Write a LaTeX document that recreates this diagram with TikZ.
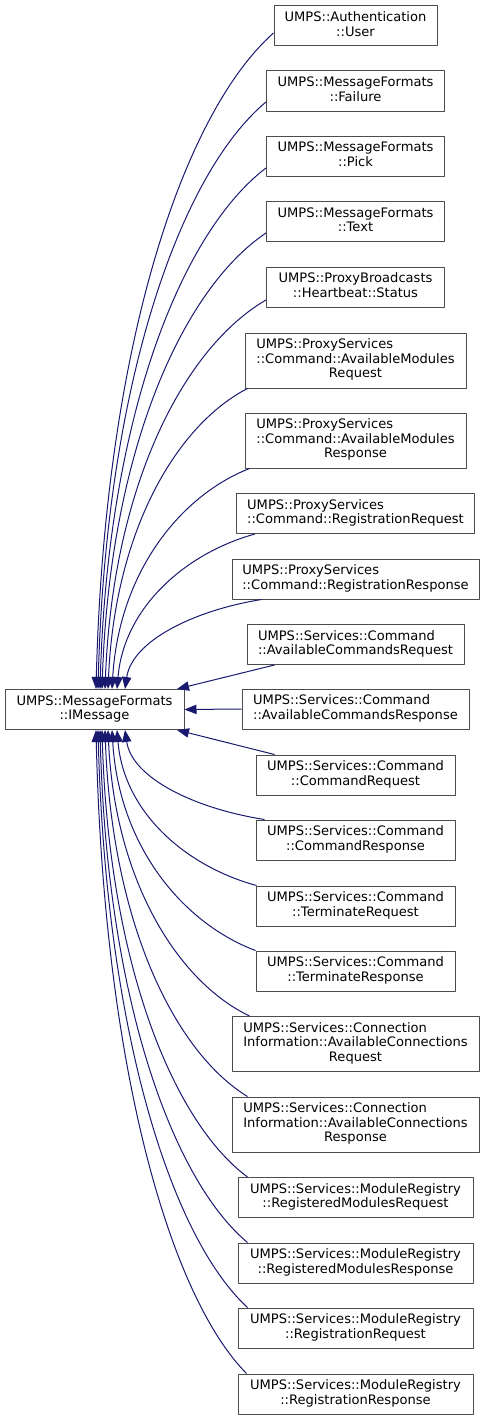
\documentclass[tikz,border=0pt]{standalone}
\usepackage{fontspec}
\setmainfont{DejaVu Sans}
\usetikzlibrary{arrows.meta,calc}
\definecolor{edgeblue}{RGB}{25,25,112}
\newcommand{\clsname}[2]{\begin{tabular}{@{}l@{}}#1\\\multicolumn{1}{@{}c@{}}{#2}\end{tabular}}
\tikzset{
  cls/.style={draw=black!70, fill=white, line width=0.75pt, inner sep=0pt,
    font=\fontsize{9.8}{10.8}\selectfont},
  edge/.style={draw=edgeblue, line width=0.75pt,
    -{Triangle[length=9pt,width=7pt,fill=edgeblue]}}
}
\begin{document}
\begin{tikzpicture}[x=0.75pt, y=0.75pt, line join=round]
  \useasboundingbox (0,0) rectangle (484,-1420);
  % base class
  \node[cls, minimum width=179*0.75pt, minimum height=40*0.75pt] (base) at (94.5,-709.5)
    {\clsname{UMPS::MessageFormats}{::IMessage}};
  % derived classes
  \foreach \n/\y/\w/\h/\f/\l in {
    auth/26/163/40/{UMPS::Authentication}/{::User},
    fail/91/178/40/{UMPS::MessageFormats}/{::Failure},
    pick/156/178/40/{UMPS::MessageFormats}/{::Pick},
    text/221.5/178/40/{UMPS::MessageFormats}/{::Text},
    hbst/287/178/40/{UMPS::ProxyBroadcasts}/{::Heartbeat::Status},
    amreq/360.5/221/55/{UMPS::ProxyServices\\::Command::AvailableModules}/{Request},
    amres/440.5/221/55/{UMPS::ProxyServices\\::Command::AvailableModules}/{Response},
    psrreq/513.5/238/40/{UMPS::ProxyServices}/{::Command::RegistrationRequest},
    psrres/579/247/40/{UMPS::ProxyServices}/{::Command::RegistrationResponse},
    acreq/644.5/217/40/{UMPS::Services::Command}/{::AvailableCommandsRequest},
    acres/709/227/40/{UMPS::Services::Command}/{::AvailableCommandsResponse},
    cmreq/775/199/40/{UMPS::Services::Command}/{::CommandRequest},
    cmres/840/199/40/{UMPS::Services::Command}/{::CommandResponse},
    tmreq/906/199/40/{UMPS::Services::Command}/{::TerminateRequest},
    tmres/971/199/40/{UMPS::Services::Command}/{::TerminateResponse},
    acnreq/1044/247/55/{UMPS::Services::Connection\\Information::AvailableConnections}/{Request},
    acnres/1124.5/247/55/{UMPS::Services::Connection\\Information::AvailableConnections}/{Response},
    rmreq/1197.5/235/40/{UMPS::Services::ModuleRegistry}/{::RegisteredModulesRequest},
    rmres/1263/235/40/{UMPS::Services::ModuleRegistry}/{::RegisteredModulesResponse},
    mrreq/1328/235/40/{UMPS::Services::ModuleRegistry}/{::RegistrationRequest},
    mrres/1394/235/40/{UMPS::Services::ModuleRegistry}/{::RegistrationResponse}}{
    \node[cls, minimum width=\w*0.75pt, minimum height=\h*0.75pt] (\n) at (355.5,-\y)
      {\clsname{\f}{\l}};
  }
  % inheritance arrows, upper half
  \draw[edge] ($(auth.west)+(0,-7)$) .. controls +(-89,-79) and +(9,348) .. ($(base.north)+(1.5,0)$);
  \draw[edge] ($(fail.west)+(0,-11)$) .. controls +(-84,-70) and +(8,311) .. ($(base.north)+(3.5,0)$);
  \draw[edge] ($(pick.west)+(0,-12)$) .. controls +(-83,-63) and +(8,276) .. ($(base.north)+(5.5,0)$);
  \draw[edge] ($(text.west)+(0,-11.5)$) .. controls +(-82,-55) and +(8,242) .. ($(base.north)+(7.5,0)$);
  \draw[edge] ($(hbst.west)+(0,-13)$) .. controls +(-81,-47) and +(8,206) .. ($(base.north)+(10.5,0)$);
  \draw[edge] ($(amreq.south west)+(3,0)$) .. controls +(-70,-36) and +(7,160) .. ($(base.north)+(13.5,0)$);
  \draw[edge] ($(amres.south west)+(5,0)$) .. controls +(-69,-27) and +(7,117) .. ($(base.north)+(17.5,0)$);
  \draw[edge] ($(psrreq.south west)+(19,0)$) .. controls +(-69,-19) and +(7,82) .. ($(base.north)+(22.5,0)$);
  \draw[edge] ($(psrres.south west)+(30,0)$) .. controls +(-68,-11) and +(7,48) .. ($(base.north)+(30.5,0)$);
  \draw[edge] ($(acreq.south west)+(28,0)$) -- ($(base.north)+(82.5,0)$);
  \draw[edge] (acres.west) -- (base.east);
  % inheritance arrows, lower half
  \draw[edge] ($(cmreq.north west)+(19,0)$) -- ($(base.south)+(82.5,0)$);
  \draw[edge] ($(cmres.north west)+(9,0)$) .. controls +(-70,11) and +(7,-48) .. ($(base.south)+(30.5,0)$);
  \draw[edge] ($(tmreq.north west)+(1,0)$) .. controls +(-70,19) and +(7,-83) .. ($(base.south)+(22.5,0)$);
  \draw[edge] (tmres.north west) .. controls +(-72,27) and +(7,-117) .. ($(base.south)+(17.5,0)$);
  \draw[edge] ($(acnreq.north west)+(18,0)$) .. controls +(-71,34) and +(7,-152) .. ($(base.south)+(13.5,0)$);
  \draw[edge] ($(acnres.north west)+(16,0)$) .. controls +(-72,44) and +(7,-195) .. ($(base.south)+(10.5,0)$);
  \draw[edge] ($(rmreq.north west)+(10,0)$) .. controls +(-73,54) and +(7,-237) .. ($(base.south)+(7.5,0)$);
  \draw[edge] ($(rmres.north west)+(10,0)$) .. controls +(-74,62) and +(7,-272) .. ($(base.south)+(5.5,0)$);
  \draw[edge] ($(mrreq.north west)+(10,0)$) .. controls +(-75,69) and +(8,-306) .. ($(base.south)+(3.5,0)$);
  \draw[edge] ($(mrres.north west)+(9,0)$) .. controls +(-76,77) and +(8,-341) .. ($(base.south)+(1.5,0)$);
\end{tikzpicture}
\end{document}
